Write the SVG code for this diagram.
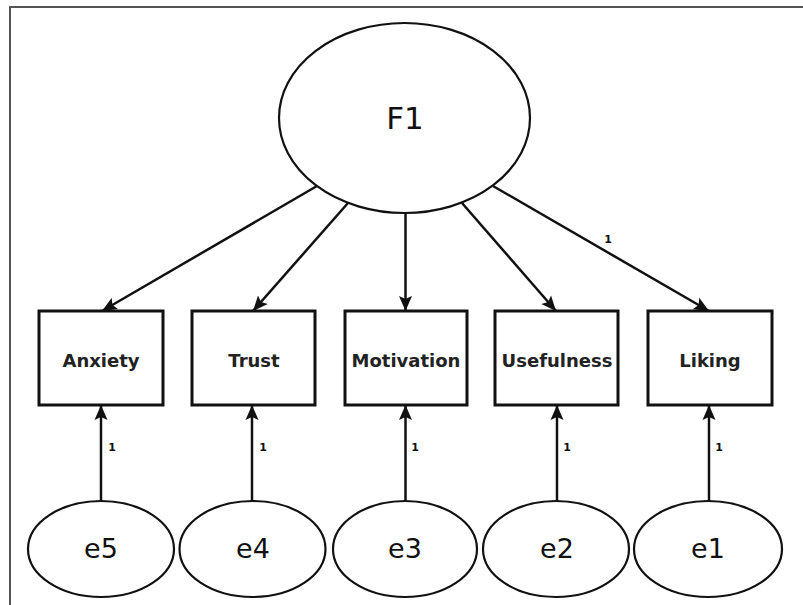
<svg xmlns="http://www.w3.org/2000/svg" width="803" height="605" viewBox="0 0 803 605">
  <defs>
    <marker id="arr" markerUnits="userSpaceOnUse" markerWidth="16" markerHeight="14" viewBox="0 0 16 14" refX="15" refY="7" orient="auto">
      <path d="M0,0.5 L15,7 L0,13.5 L3,7 z" fill="#111"/>
    </marker>
  </defs>
  <style>
    .frame { stroke: #555; stroke-width: 2; fill: none; }
    .node { fill: #fff; stroke: #111; stroke-width: 2.2; }
    .box { fill: #fff; stroke: #111; stroke-width: 3; }
    .edge { stroke: #111; stroke-width: 2.5; fill: none; marker-end: url(#arr); }
    .lat { font-family: "DejaVu Sans", sans-serif; font-size: 31px; fill: #111; text-anchor: middle; }
    .err { font-family: "DejaVu Sans", sans-serif; font-size: 27px; fill: #111; text-anchor: middle; }
    .obs { font-family: "DejaVu Sans", sans-serif; font-size: 18px; font-weight: bold; fill: #222; text-anchor: middle; }
    .lbl { font-family: "DejaVu Sans", sans-serif; font-size: 11px; font-weight: bold; fill: #111; text-anchor: middle; }
  </style>
  <rect width="803" height="605" fill="#fff"/>
  <path class="frame" d="M10,605 L10,7 L803,7"/>

  <g id="connectors">
    <line class="edge" x1="317" y1="186" x2="102" y2="311"/>
    <line class="edge" x1="348" y1="203" x2="253" y2="311"/>
    <line class="edge" x1="405.5" y1="213" x2="405.5" y2="311"/>
    <line class="edge" x1="462" y1="203" x2="556" y2="311"/>
    <line class="edge" x1="493" y1="186" x2="709" y2="311"/>
    <text class="lbl" x="608" y="243">1</text>

    <line class="edge" x1="101" y1="501" x2="101" y2="405"/>
    <line class="edge" x1="252" y1="501" x2="252" y2="405"/>
    <line class="edge" x1="405.5" y1="501" x2="405.5" y2="405"/>
    <line class="edge" x1="557" y1="501" x2="557" y2="405"/>
    <line class="edge" x1="709" y1="501" x2="709" y2="405"/>
    <text class="lbl" x="112" y="451">1</text>
    <text class="lbl" x="263" y="451">1</text>
    <text class="lbl" x="415" y="451">1</text>
    <text class="lbl" x="567" y="451">1</text>
    <text class="lbl" x="719" y="451">1</text>
  </g>

  <g id="F1">
    <ellipse class="node" cx="404.5" cy="118" rx="125.5" ry="95"/>
    <text class="lat" x="405" y="129">F1</text>
  </g>

  <g id="Anxiety">
    <rect class="box" x="39" y="311" width="124" height="94"/>
    <text class="obs" x="101" y="367">Anxiety</text>
  </g>
  <g id="Trust">
    <rect class="box" x="192" y="311" width="123" height="94"/>
    <text class="obs" x="254" y="367">Trust</text>
  </g>
  <g id="Motivation">
    <rect class="box" x="345" y="311" width="122" height="94"/>
    <text class="obs" x="406" y="367">Motivation</text>
  </g>
  <g id="Usefulness">
    <rect class="box" x="495" y="311" width="123" height="94"/>
    <text class="obs" x="557" y="367">Usefulness</text>
  </g>
  <g id="Liking">
    <rect class="box" x="648" y="311" width="124" height="94"/>
    <text class="obs" x="710" y="367">Liking</text>
  </g>

  <g id="e5">
    <ellipse class="node" cx="101" cy="549" rx="73" ry="48"/>
    <text class="err" x="101" y="558">e5</text>
  </g>
  <g id="e4">
    <ellipse class="node" cx="252.5" cy="549" rx="73" ry="48"/>
    <text class="err" x="253" y="558">e4</text>
  </g>
  <g id="e3">
    <ellipse class="node" cx="405" cy="549" rx="72" ry="48"/>
    <text class="err" x="405" y="558">e3</text>
  </g>
  <g id="e2">
    <ellipse class="node" cx="556" cy="549" rx="73" ry="48"/>
    <text class="err" x="557" y="558">e2</text>
  </g>
  <g id="e1">
    <ellipse class="node" cx="708" cy="549" rx="74" ry="48"/>
    <text class="err" x="708" y="558">e1</text>
  </g>
</svg>
